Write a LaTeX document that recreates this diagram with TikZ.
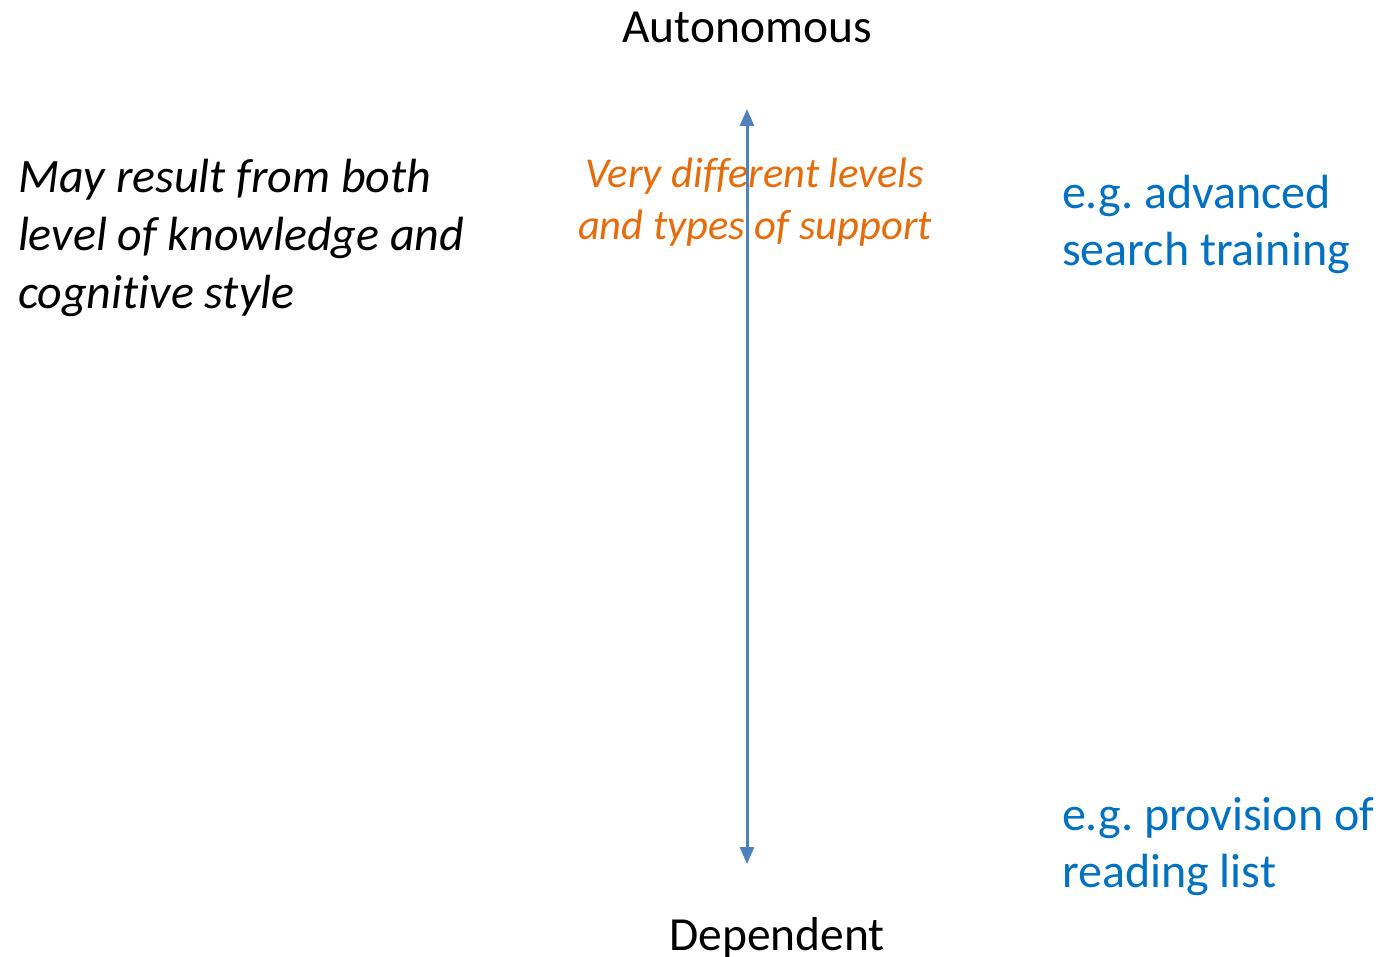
\documentclass[tikz,border=0pt]{standalone}
\usepackage{fontspec}
\setmainfont{Carlito}[Ligatures=NoCommon]
\usetikzlibrary{arrows.meta}
\definecolor{axisblue}{HTML}{4F81BD}
\definecolor{noteorange}{HTML}{E46C0A}
\definecolor{exampleblue}{HTML}{0070C0}
\frenchspacing
\begin{document}
\begin{tikzpicture}[x=1pt,y=-1pt,
  every node/.style={inner sep=0pt,outer sep=0pt},
  pole/.style={font=\fontsize{47.5}{58}\selectfont,anchor=base},
  note/.style={font=\fontsize{48}{58}\selectfont\itshape,align=left,anchor=base west},
  support/.style={font=\fontsize{42.5}{52}\selectfont\itshape,text=noteorange,align=center,anchor=base},
  example/.style={font=\fontsize{48}{57}\selectfont,text=exampleblue,align=left,anchor=base west},
  axis/.style={draw=axisblue,line width=3pt,{Triangle[length=17pt,width=14pt]}-{Triangle[length=17pt,width=14pt]}}]
\useasboundingbox (0,0) rectangle (1381,957);
% the two poles of the scale
\node[pole] (auto) at (747,43) {Autonomous};
\node[pole] (dep) at (777,950) {Dependent};
% the scale itself (multi-line nodes below are placed by their last baseline)
\node[support] (levels) at (755,240) {Very different levels\\and types of support};
\coordinate (top) at (747,109);
\coordinate (bottom) at (747,864);
\draw[axis] (bottom) -- (top);
\node[note] (cause) at (18,309) {May result from both\\level of knowledge and\\cognitive style};
\node[example] (adv) at (1062,266) {e.g. advanced\\search training};
\node[example] (list) at (1062,887) {e.g. provision of\\reading list};
\end{tikzpicture}
\end{document}
